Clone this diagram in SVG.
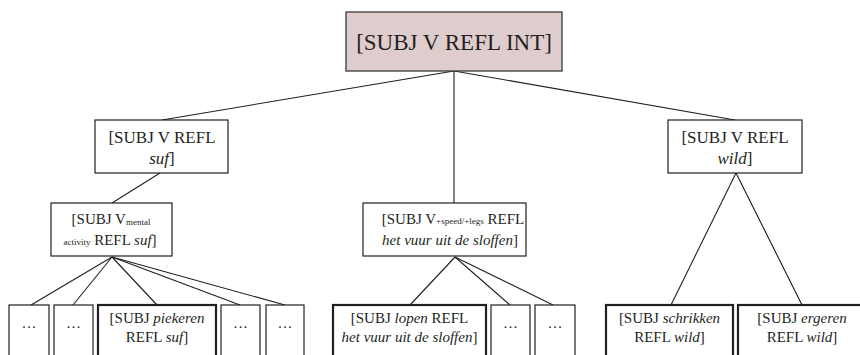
<svg xmlns="http://www.w3.org/2000/svg" width="860" height="355" viewBox="0 0 860 355">
<style>
  text { font-family: "Liberation Serif", "Times New Roman", serif; fill: #231f20; text-anchor: middle; }
  .t0 { font-size: 23px; }
  .t1 { font-size: 17px; }
  .t2 { font-size: 15px; }
  .sub { font-size: 9px; }
  .i { font-style: italic; }
  .box { fill: #ffffff; stroke: #231f20; stroke-width: 1.2; }
  .thick { fill: #ffffff; stroke: #231f20; stroke-width: 2.2; }
  .root { fill: #dfcdcd; stroke: #3a3a3a; stroke-width: 1.3; }
  #connectors line { stroke: #231f20; stroke-width: 1.1; }
</style>
<rect width="860" height="355" fill="#ffffff"/>
<g id="connectors">
  <line x1="454" y1="71" x2="162" y2="120"/>
  <line x1="454" y1="71" x2="454" y2="203"/>
  <line x1="454" y1="71" x2="735" y2="120"/>
  <line x1="160" y1="173" x2="112" y2="203"/>
  <line x1="112" y1="257" x2="31" y2="305"/>
  <line x1="112" y1="257" x2="73" y2="305"/>
  <line x1="112" y1="257" x2="157" y2="305"/>
  <line x1="112" y1="257" x2="240" y2="305"/>
  <line x1="112" y1="257" x2="285" y2="305"/>
  <line x1="455" y1="257" x2="410" y2="305"/>
  <line x1="455" y1="257" x2="510" y2="305"/>
  <line x1="455" y1="257" x2="553" y2="305"/>
  <line x1="736" y1="173" x2="671" y2="305"/>
  <line x1="736" y1="173" x2="802" y2="305"/>
</g>
<g id="root">
  <rect class="root" x="346" y="12" width="216" height="59"/>
  <text class="t0" x="454" y="50">[SUBJ V REFL INT]</text>
</g>
<g id="suf">
  <rect class="box" x="95" y="120" width="133" height="53"/>
  <text class="t1" x="162" y="143">[SUBJ V REFL</text>
  <text class="t1" x="162" y="164"><tspan class="i">suf</tspan>]</text>
</g>
<g id="wild">
  <rect class="box" x="668" y="120" width="134" height="53"/>
  <text class="t1" x="735" y="143">[SUBJ V REFL</text>
  <text class="t1" x="735" y="164"><tspan class="i">wild</tspan>]</text>
</g>
<g id="mental">
  <rect class="box" x="51" y="203" width="121" height="53"/>
  <text class="t2" x="111" y="224">[SUBJ V<tspan class="sub" dy="1">mental</tspan></text>
  <text class="t2" x="110" y="245"><tspan class="sub">activity</tspan> REFL <tspan class="i">suf</tspan>]</text>
</g>
<g id="speed">
  <rect class="box" x="363" y="203" width="163" height="53"/>
  <text class="t2" x="453" y="224">[SUBJ V<tspan class="sub">+speed/+legs</tspan> REFL</text>
  <text class="t2" x="450" y="245"><tspan class="i">het vuur uit de sloffen</tspan>]</text>
</g>
<g id="dots1">
  <rect class="box" x="9" y="305" width="40" height="60"/>
  <text class="t2" x="29" y="328">…</text>
</g>
<g id="dots2">
  <rect class="box" x="54" y="305" width="39" height="60"/>
  <text class="t2" x="73.5" y="328">…</text>
</g>
<g id="piekeren">
  <rect class="thick" x="98" y="305" width="118" height="60"/>
  <text class="t2" x="157" y="323">[SUBJ <tspan class="i">piekeren</tspan></text>
  <text class="t2" x="157" y="342">REFL <tspan class="i">suf</tspan>]</text>
</g>
<g id="dots3">
  <rect class="box" x="221" y="305" width="39" height="60"/>
  <text class="t2" x="240.5" y="328">…</text>
</g>
<g id="dots4">
  <rect class="box" x="266" y="305" width="38" height="60"/>
  <text class="t2" x="285" y="328">…</text>
</g>
<g id="lopen">
  <rect class="thick" x="333" y="305" width="153" height="60"/>
  <text class="t2" x="409.5" y="323">[SUBJ <tspan class="i">lopen</tspan> REFL</text>
  <text class="t2" x="409.5" y="342"><tspan class="i">het vuur uit de sloffen</tspan>]</text>
</g>
<g id="dots5">
  <rect class="box" x="491" y="305" width="39" height="60"/>
  <text class="t2" x="510.5" y="328">…</text>
</g>
<g id="dots6">
  <rect class="box" x="535" y="305" width="40" height="60"/>
  <text class="t2" x="555" y="328">…</text>
</g>
<g id="schrikken">
  <rect class="thick" x="606" y="305" width="127" height="60"/>
  <text class="t2" x="669.5" y="323">[SUBJ <tspan class="i">schrikken</tspan></text>
  <text class="t2" x="669.5" y="342">REFL <tspan class="i">wild</tspan>]</text>
</g>
<g id="ergeren">
  <rect class="thick" x="738" y="305" width="128" height="60"/>
  <text class="t2" x="802" y="323">[SUBJ <tspan class="i">ergeren</tspan></text>
  <text class="t2" x="802" y="342">REFL <tspan class="i">wild</tspan>]</text>
</g>
</svg>
